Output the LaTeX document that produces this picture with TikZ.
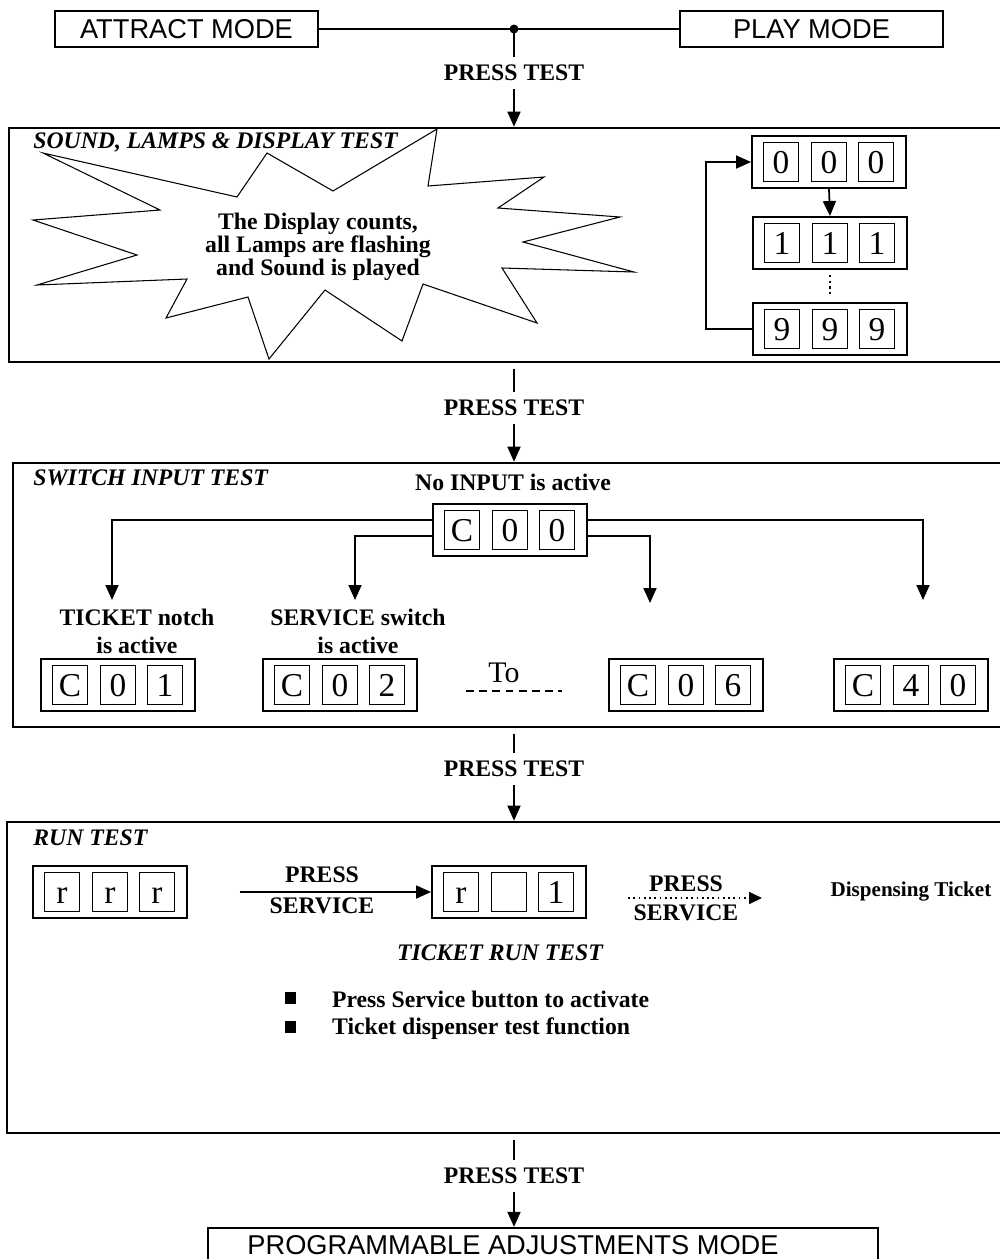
\documentclass[tikz,border=0pt]{standalone}
\usepackage{fontspec}
\setmainfont{Liberation Serif}
\newfontfamily\arialf{Liberation Sans}
\usetikzlibrary{arrows.meta,calc,fit}
\newcommand\cntbox[5]{%
  \node[cbox] (#1) at (#2) {};
  \node[dig] (#1a) at ($(#1)+(-48,0)$) {#3};
  \node[dig] (#1b) at ($(#1)+(0,0)$) {#4};
  \node[dig] (#1c) at ($(#1)+(47,0)$) {#5};
}
\begin{document}
\begin{tikzpicture}[x=0.02cm,y=-0.02cm,
  lbl/.style={font=\fontsize{13.5}{16}\selectfont\bfseries, inner sep=1pt},
  ttl/.style={font=\fontsize{13.5}{16}\selectfont\bfseries\itshape, anchor=west, inner sep=0pt},
  mode/.style={draw, line width=1pt, font=\arialf\fontsize{15.5}{18}\selectfont, minimum width=5.26cm, minimum height=0.72cm, inner sep=0pt},
  dig/.style={draw, line width=0.6pt, minimum width=0.7cm, minimum height=0.78cm, inner sep=0pt, text height=13pt, text depth=0pt, font=\fontsize{19}{20}\selectfont},
  cbox/.style={draw, line width=1.1pt, minimum width=3.08cm, minimum height=1.04cm, inner sep=0pt},
  panel/.style={draw, line width=1.5pt, inner sep=0pt},
  pt/.style={lbl, text height=9pt, text depth=0pt, inner xsep=0pt, inner ysep=4.5pt},
  arr/.style={line width=1pt, -{Triangle[length=0.3cm,width=0.26cm]}},
  ln/.style={line width=1pt}
]
\useasboundingbox (0,0) rectangle (1000,1259);
\clip (0,0) rectangle (1000,1259);

% ---------- top ----------
\node[mode] (attract) at (186.5,29) {ATTRACT MODE};
\node[mode] (play) at (811.5,29) {PLAY MODE};
\coordinate (junc) at (514,29);
\draw[line width=1.3pt] (attract.east) -- (play.west);
\fill (junc) circle (4.5);
\node[pt] (pt1) at (514,73) {PRESS TEST};
\draw[ln] (junc) -- (pt1.north);

% ---------- panel 1 ----------
\node[panel, fit={(9,128) (1012,362)}] (p1) {};
\draw[arr] (pt1.south) -- (pt1.south |- p1.north);
\node[ttl] (t1) at (33,142) {SOUND, LAMPS \& DISPLAY TEST};
\draw[line width=0.6pt] (43,153) -- (237,197) -- (267,153) -- (333,191) -- (437,129) -- (428,186)
  -- (544,177) -- (498,208) -- (620,217) -- (523,242) -- (634,272) -- (502,268) -- (537,323)
  -- (423,284) -- (402,341) -- (325,290) -- (269,359) -- (248,297) -- (166,318) -- (187,279)
  -- (37,285) -- (137,255) -- (33,220) -- (160,210) -- cycle;
\node[lbl, align=center, font=\fontsize{13.5}{13}\selectfont\bfseries] (star) at (318,247)
  {The Display counts,\\all Lamps are flashing\\and Sound is played};
\cntbox{S0}{829,162}{0}{0}{0}
\cntbox{S1}{830,243}{1}{1}{1}
\cntbox{S9}{830,329}{9}{9}{9}
\draw[arr] (S0.south) -- (S1.north);
\draw[line width=1.2pt, dotted, shorten <=3pt, shorten >=4pt] (S1.south) -- (S9.north);
\draw[arr] (S9.west) -- ++(-46,0) |- (S0.west);

% ---------- panel 3 ----------
\node[pt] (pt2) at (514,408) {PRESS TEST};
\node[panel, fit={(13,463) (1012,727)}] (p3) {};
\draw[ln] ([yshift=-3pt]pt2.north |- p1.south) -- (pt2.north);
\draw[arr] (pt2.south) -- (pt2.south |- p3.north);
\node[ttl] (t3) at (33,478) {SWITCH INPUT TEST};
\node[lbl] (noin) at (513,482) {No INPUT is active};
\cntbox{C00}{510,530}{C}{0}{0}
\coordinate (a1) at (112,600);
\coordinate (a2) at (355,600);
\coordinate (a3) at (650,603);
\coordinate (a4) at (923,600);
\draw[arr] ($(C00.west)+(0,-10)$) -| (a1);
\draw[arr] ($(C00.west)+(0,6)$) -| (a2);
\draw[arr] ($(C00.east)+(0,6)$) -| (a3);
\draw[arr] ($(C00.east)+(0,-10)$) -| (a4);
\node[lbl, align=center] (tick) at (137,631) {TICKET notch\\is active};
\node[lbl, align=center] (serv) at (358,631) {SERVICE switch\\is active};
\cntbox{C01}{118,685}{C}{0}{1}
\cntbox{C02}{340,685}{C}{0}{2}
\cntbox{C06}{686,685}{C}{0}{6}
\cntbox{C40}{911,685}{C}{4}{0}
\node[font=\fontsize{17}{18}\selectfont, inner sep=0pt] (to) at (504,673) {To};
\coordinate (da) at (466,691);
\coordinate (db) at (562,691);
\draw[line width=1pt, dash pattern=on 4.5pt off 3pt] (da) -- (db);

% ---------- panel 4 ----------
\node[pt] (pt3) at (514,769) {PRESS TEST};
\node[panel, fit={(7,822) (1012,1133)}] (p4) {};
\draw[ln] ([yshift=-3pt]pt3.north |- p3.south) -- (pt3.north);
\draw[arr] (pt3.south) -- (pt3.south |- p4.north);
\node[ttl] (t4) at (33,838) {RUN TEST};
\cntbox{R1}{110,892}{r}{r}{r}
\cntbox{R2}{509,892}{r}{}{1}
\draw[arr, shorten <=1.04cm] (R1.east) -- (R2.west);
\node[lbl] (ps1) at (322,875) {PRESS};
\node[lbl] (ps2) at (322,906) {SERVICE};
\node[lbl, font=\fontsize{12}{13}\selectfont\bfseries] (disp) at (911,891) {Dispensing Ticket};
\coordinate (d0) at (628,898);
\coordinate (d1) at (762,898);
\draw[line width=1pt, dotted, -{Triangle[length=0.26cm,width=0.24cm]}] (d0) -- (d1);
\node[lbl] (ps3) at (686,884) {PRESS};
\node[lbl] (ps4) at (686,913) {SERVICE};
\node[ttl, anchor=center] (trt) at (500,953) {TICKET RUN TEST};
\node[fill, minimum width=0.22cm, minimum height=0.24cm, inner sep=0pt] (b1) at (290,998) {};
\node[fill, minimum width=0.22cm, minimum height=0.24cm, inner sep=0pt] (b2) at (290,1027) {};
\node[lbl, anchor=west] (l1) at (330,999) {Press Service button to activate};
\node[lbl, anchor=west] (l2) at (330,1029) {Ticket dispenser test function};

% ---------- final ----------
\node[pt] (pt4) at (514,1176) {PRESS TEST};
\node[panel, line width=1.3pt, fit={(208,1228) (878,1275)}] (fin) {};
\draw[ln] ([yshift=-3pt]pt4.north |- p4.south) -- (pt4.north);
\draw[arr] (pt4.south) -- (pt4.south |- fin.north);
\node[font=\arialf\fontsize{15.5}{18}\selectfont, inner sep=0pt, text depth=0pt] (fintxt) at (513,1245) {PROGRAMMABLE ADJUSTMENTS MODE};
\end{tikzpicture}
\end{document}
